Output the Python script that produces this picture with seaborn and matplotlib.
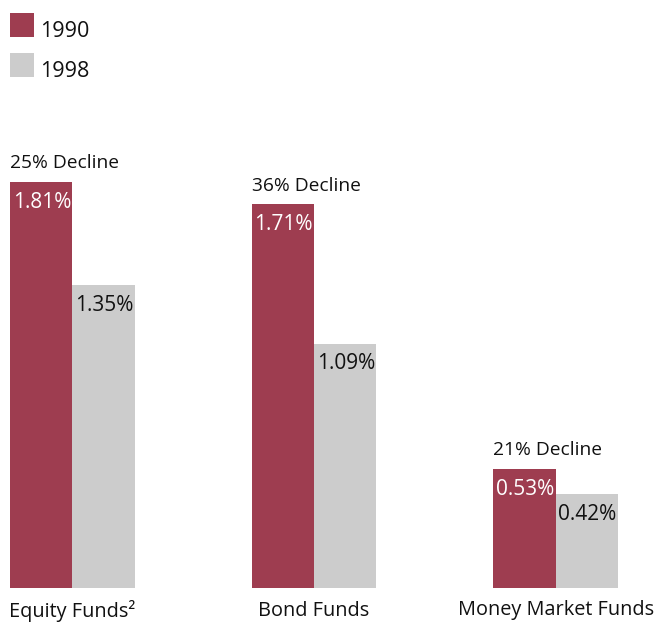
import pandas as pd
import matplotlib.pyplot as plt
import seaborn as sns
from matplotlib.patches import Rectangle

# data
categories = ["Equity Funds²", "Bond Funds", "Money Market Funds"]
years = ["1990", "1998"]
values_1990 = [1.81, 1.71, 0.53]
values_1998 = [1.35, 1.09, 0.42]
declines = ["25% Decline", "36% Decline", "21% Decline"]

df = pd.DataFrame({
    "Category": categories * 2,
    "Year": [years[0]] * 3 + [years[1]] * 3,
    "Value": values_1990 + values_1998,
})

sns.set_theme(style="white")
plt.rcParams["font.family"] = ["Open Sans", "DejaVu Sans"]

maroon = "#9E3D50"
grey = "#CCCCCC"
colors = [maroon, grey]

fig = plt.figure(figsize=(6.56, 6.23), dpi=100)
W, H = 656, 623
# axes placed in pixel terms: bars span x 10..618, baseline at y 588, tallest bar top at 182
ax = fig.add_axes([10 / W, (H - 588) / H, 608 / W, (588 - 182) / H])

bw = 0.516
sns.barplot(data=df, x="Category", y="Value", hue="Year", order=categories,
            hue_order=years, palette=colors, width=bw, saturation=1,
            dodge=True, ax=ax, legend=False, linewidth=0)

ax.set_xlim(-bw / 2, 2 + bw / 2)
ax.set_ylim(0, 1.81)
sns.despine(ax=ax, left=True, bottom=True)
ax.set_yticks([])
ax.set_xlabel("")
ax.set_ylabel("")
ax.tick_params(axis="x", length=0, pad=9, labelsize=14.3, labelcolor="#111111")

# value labels inside bars, decline labels above the 1990 bars
for bar_container, color in zip(ax.containers, ["white", "#111111"]):
    for rect in bar_container:
        x0 = rect.get_x()
        top = rect.get_height()
        ax.annotate(f"{top:.2f}%", (x0, top), xytext=(2, -7),
                    textcoords="offset points", ha="left", va="top",
                    fontsize=15, color=color)

for rect, label in zip(ax.containers[0], declines):
    ax.annotate(label, (rect.get_x(), rect.get_height()), xytext=(0, 7),
                textcoords="offset points", ha="left", va="bottom",
                fontsize=13.8, color="#111111", annotation_clip=False)

# legend: square swatches with the year set on the swatch's bottom line
for i, (year, c) in enumerate(zip(years, colors)):
    top = 13 + 40 * i
    fig.add_artist(Rectangle((10 / W, 1 - (top + 24) / H), 24 / W, 24 / H,
                             transform=fig.transFigure, facecolor=c, linewidth=0))
    fig.text(40 / W, 1 - (top + 24) / H, year, ha="left", va="baseline",
             fontsize=15.5, color="#111111")

fig.savefig("out.png", dpi=100)
